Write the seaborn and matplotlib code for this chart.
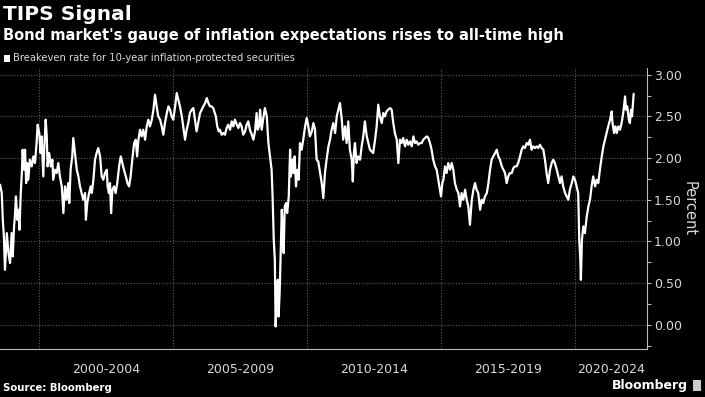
import pandas as pd
import seaborn as sns
import matplotlib.pyplot as plt
from matplotlib.patches import Rectangle
from matplotlib.ticker import FixedLocator, FormatStrFormatter

# decimal year of each reading, and the 10-year breakeven rate (percent)
years = [
    1998.55, 1998.61, 1998.65, 1998.69, 1998.73, 1998.80, 1998.86, 1998.92, 1998.98,
    1999.02, 1999.07, 1999.10, 1999.14, 1999.19, 1999.23, 1999.27, 1999.32, 1999.36,
    1999.39, 1999.44, 1999.48, 1999.52, 1999.56, 1999.60, 1999.66, 1999.73, 1999.79,
    1999.85, 1999.91, 1999.95, 2000.01, 2000.06, 2000.10, 2000.16, 2000.20, 2000.25,
    2000.29, 2000.32, 2000.38, 2000.44, 2000.50, 2000.53, 2000.60, 2000.66, 2000.72,
    2000.78, 2000.85, 2000.91, 2000.97, 2001.03, 2001.09, 2001.13, 2001.18, 2001.24,
    2001.28, 2001.34, 2001.41, 2001.47, 2001.53, 2001.59, 2001.65, 2001.72, 2001.75,
    2001.80, 2001.87, 2001.93, 2001.97, 2002.03, 2002.09, 2002.15, 2002.21, 2002.28,
    2002.34, 2002.40, 2002.46, 2002.53, 2002.56, 2002.61, 2002.65, 2002.69, 2002.74,
    2002.80, 2002.86, 2002.92, 2002.99, 2003.05, 2003.11, 2003.17, 2003.24, 2003.30,
    2003.36, 2003.42, 2003.48, 2003.55, 2003.61, 2003.66, 2003.71, 2003.77, 2003.83,
    2003.89, 2003.96, 2004.02, 2004.08, 2004.14, 2004.21, 2004.27, 2004.33, 2004.39,
    2004.45, 2004.52, 2004.58, 2004.64, 2004.70, 2004.77, 2004.83, 2004.89, 2004.95,
    2005.01, 2005.08, 2005.14, 2005.20, 2005.26, 2005.33, 2005.38, 2005.45, 2005.51,
    2005.57, 2005.63, 2005.70, 2005.76, 2005.82, 2005.88, 2005.94, 2006.01, 2006.07,
    2006.13, 2006.20, 2006.26, 2006.32, 2006.38, 2006.44, 2006.50, 2006.56, 2006.60,
    2006.65, 2006.71, 2006.75, 2006.82, 2006.88, 2006.94, 2007.00, 2007.06, 2007.13,
    2007.19, 2007.25, 2007.31, 2007.38, 2007.44, 2007.50, 2007.56, 2007.62, 2007.69,
    2007.75, 2007.81, 2007.87, 2007.94, 2008.00, 2008.06, 2008.12, 2008.16, 2008.21,
    2008.25, 2008.31, 2008.37, 2008.43, 2008.50, 2008.56, 2008.62, 2008.68, 2008.72,
    2008.76, 2008.80, 2008.83, 2008.87, 2008.91, 2008.94, 2008.98, 2009.02, 2009.06,
    2009.09, 2009.13, 2009.17, 2009.22, 2009.26, 2009.32, 2009.37, 2009.40, 2009.44,
    2009.49, 2009.54, 2009.59, 2009.64, 2009.69, 2009.74, 2009.80, 2009.86, 2009.93,
    2009.99, 2010.05, 2010.11, 2010.18, 2010.24, 2010.30, 2010.36, 2010.42, 2010.49,
    2010.55, 2010.61, 2010.67, 2010.73, 2010.80, 2010.86, 2010.92, 2010.98, 2011.05,
    2011.11, 2011.17, 2011.23, 2011.30, 2011.35, 2011.42, 2011.48, 2011.54, 2011.60,
    2011.67, 2011.71, 2011.75, 2011.79, 2011.85, 2011.91, 2011.98, 2012.04, 2012.10,
    2012.16, 2012.23, 2012.29, 2012.35, 2012.41, 2012.47, 2012.54, 2012.60, 2012.66,
    2012.72, 2012.79, 2012.85, 2012.91, 2012.97, 2013.03, 2013.10, 2013.16, 2013.22,
    2013.28, 2013.35, 2013.41, 2013.47, 2013.53, 2013.59, 2013.66, 2013.72, 2013.78,
    2013.84, 2013.91, 2013.97, 2014.03, 2014.09, 2014.15, 2014.22, 2014.28, 2014.34,
    2014.40, 2014.47, 2014.53, 2014.59, 2014.65, 2014.71, 2014.78, 2014.84, 2014.90,
    2014.96, 2015.00, 2015.05, 2015.09, 2015.15, 2015.21, 2015.27, 2015.34, 2015.40,
    2015.46, 2015.52, 2015.59, 2015.65, 2015.71, 2015.77, 2015.83, 2015.90, 2015.96,
    2016.02, 2016.08, 2016.15, 2016.21, 2016.27, 2016.33, 2016.39, 2016.46, 2016.52,
    2016.58, 2016.64, 2016.71, 2016.77, 2016.83, 2016.89, 2016.95, 2017.02, 2017.08,
    2017.14, 2017.20, 2017.27, 2017.33, 2017.39, 2017.45, 2017.51, 2017.57, 2017.64,
    2017.70, 2017.76, 2017.82, 2017.88, 2017.95, 2018.01, 2018.07, 2018.13, 2018.20,
    2018.26, 2018.32, 2018.38, 2018.44, 2018.51, 2018.57, 2018.63, 2018.69, 2018.76,
    2018.82, 2018.88, 2018.94, 2019.00, 2019.07, 2019.13, 2019.19, 2019.25, 2019.32,
    2019.38, 2019.44, 2019.50, 2019.56, 2019.63, 2019.69, 2019.75, 2019.81, 2019.88,
    2019.94, 2020.00, 2020.06, 2020.12, 2020.16, 2020.20, 2020.22, 2020.26, 2020.31,
    2020.37, 2020.44, 2020.50, 2020.56, 2020.62, 2020.68, 2020.75, 2020.81, 2020.87,
    2020.93, 2021.00, 2021.06, 2021.12, 2021.18, 2021.24, 2021.31, 2021.37, 2021.40,
    2021.46, 2021.51, 2021.56, 2021.62, 2021.68, 2021.74, 2021.80, 2021.87, 2021.90,
    2021.95, 2022.01, 2022.05, 2022.09, 2022.13, 2022.19,
]
rate = [
    1.68, 1.58, 1.26, 1.06, 0.66, 1.10, 0.86, 0.74, 1.10,
    0.82, 1.18, 1.30, 1.54, 1.26, 1.38, 1.14, 1.58, 1.82,
    2.10, 1.86, 2.10, 1.70, 1.94, 1.74, 1.98, 1.90, 2.02,
    1.94, 2.18, 2.40, 2.30, 2.06, 2.26, 1.78, 2.14, 2.46,
    2.26, 1.90, 2.06, 1.90, 1.98, 1.74, 1.86, 1.82, 1.94,
    1.78, 1.66, 1.34, 1.66, 1.50, 1.70, 1.46, 1.86, 2.02,
    2.24, 2.06, 1.86, 1.78, 1.66, 1.58, 1.50, 1.58, 1.26,
    1.46, 1.58, 1.66, 1.58, 1.74, 1.98, 2.06, 2.12, 2.02,
    1.78, 1.74, 1.82, 1.86, 1.66, 1.58, 1.70, 1.34, 1.62,
    1.66, 1.58, 1.70, 1.90, 2.02, 1.94, 1.86, 1.78, 1.70,
    1.66, 1.78, 1.98, 2.18, 2.22, 2.02, 2.22, 2.34, 2.26,
    2.34, 2.22, 2.38, 2.46, 2.38, 2.46, 2.58, 2.76, 2.62,
    2.50, 2.46, 2.38, 2.28, 2.42, 2.54, 2.62, 2.58, 2.50,
    2.46, 2.62, 2.78, 2.70, 2.62, 2.50, 2.38, 2.22, 2.34,
    2.42, 2.54, 2.58, 2.60, 2.46, 2.32, 2.42, 2.54, 2.58,
    2.62, 2.66, 2.72, 2.66, 2.62, 2.62, 2.60, 2.54, 2.50,
    2.38, 2.32, 2.34, 2.28, 2.30, 2.28, 2.36, 2.40, 2.34,
    2.44, 2.38, 2.46, 2.40, 2.36, 2.42, 2.38, 2.28, 2.32,
    2.40, 2.44, 2.34, 2.28, 2.22, 2.32, 2.54, 2.34, 2.38,
    2.58, 2.34, 2.48, 2.60, 2.50, 2.18, 2.02, 1.86, 1.50,
    1.02, 0.78, -0.02, 0.30, 0.54, 0.10, 0.38, 0.86, 1.38,
    1.14, 0.86, 1.42, 1.46, 1.34, 1.54, 2.10, 1.78, 1.98,
    1.82, 2.02, 1.66, 1.86, 1.74, 2.18, 2.10, 2.22, 2.38,
    2.48, 2.38, 2.26, 2.32, 2.42, 2.34, 1.98, 1.96, 1.82,
    1.70, 1.52, 1.82, 1.98, 2.14, 2.22, 2.34, 2.42, 2.30,
    2.50, 2.58, 2.66, 2.46, 2.22, 2.38, 2.18, 2.44, 2.10,
    1.98, 1.72, 2.06, 2.18, 1.94, 2.02, 1.98, 2.14, 2.26,
    2.44, 2.26, 2.18, 2.10, 2.08, 2.06, 2.22, 2.38, 2.64,
    2.50, 2.42, 2.54, 2.50, 2.56, 2.58, 2.60, 2.58, 2.42,
    2.30, 2.22, 1.94, 2.22, 2.18, 2.24, 2.14, 2.22, 2.16,
    2.20, 2.14, 2.26, 2.18, 2.20, 2.16, 2.18, 2.18, 2.22,
    2.24, 2.26, 2.24, 2.18, 2.10, 1.98, 1.90, 1.86, 1.74,
    1.62, 1.54, 1.70, 1.74, 1.90, 1.82, 1.94, 1.86, 1.94,
    1.86, 1.70, 1.62, 1.58, 1.42, 1.58, 1.50, 1.62, 1.50,
    1.42, 1.20, 1.50, 1.62, 1.70, 1.62, 1.58, 1.38, 1.50,
    1.46, 1.54, 1.58, 1.70, 1.86, 1.98, 2.02, 2.06, 2.10,
    2.02, 1.98, 1.90, 1.86, 1.82, 1.70, 1.78, 1.82, 1.82,
    1.88, 1.90, 1.90, 1.94, 2.02, 2.10, 2.14, 2.12, 2.18,
    2.16, 2.22, 2.10, 2.14, 2.12, 2.14, 2.12, 2.16, 2.12,
    2.10, 1.98, 1.82, 1.70, 1.86, 1.94, 1.98, 1.94, 1.86,
    1.78, 1.70, 1.78, 1.66, 1.58, 1.54, 1.50, 1.62, 1.70,
    1.78, 1.74, 1.66, 1.58, 1.02, 0.78, 0.54, 1.02, 1.18,
    1.10, 1.30, 1.42, 1.50, 1.66, 1.78, 1.66, 1.74, 1.70,
    1.86, 2.02, 2.14, 2.22, 2.30, 2.38, 2.46, 2.56, 2.42,
    2.30, 2.38, 2.30, 2.38, 2.34, 2.42, 2.54, 2.74, 2.58,
    2.62, 2.46, 2.42, 2.58, 2.50, 2.77,
]

period_starts = [2000, 2005, 2010, 2015, 2020]
period_labels = ['2000-2004', '2005-2009', '2010-2014', '2015-2019', '2020-2024']
y_ticks = [0.0, 0.5, 1.0, 1.5, 2.0, 2.5, 3.0]

x_min, x_max = 1998.545, 2022.705
grid_color = '#5c5c5c'
text_color = '#d9d9d9'

sns.set_style('dark', {'axes.facecolor': 'black', 'figure.facecolor': 'black'})
plt.rcParams['font.family'] = ['DejaVu Sans']

fig = plt.figure(figsize=(7.05, 3.97), dpi=100, facecolor='black')
ax = fig.add_axes([0.0, 0.1209, 0.9184, 0.7078])
ax.set_facecolor('black')

df = pd.DataFrame({'year': years, 'rate': rate})
sns.lineplot(data=df, x='year', y='rate', ax=ax, color='white', linewidth=1.6,
             estimator=None, sort=False, zorder=3)

ax.set_xlim(x_min, x_max)
ax.set_ylim(-0.29, 3.08)

# y axis on the right
ax.yaxis.tick_right()
ax.yaxis.set_label_position('right')
ax.yaxis.set_major_locator(FixedLocator(y_ticks))
ax.yaxis.set_minor_locator(FixedLocator([-0.25, 0.25, 0.75, 1.25, 1.75, 2.25, 2.75]))
ax.yaxis.set_major_formatter(FormatStrFormatter('%.2f'))
ax.tick_params(axis='y', which='both', direction='out', length=3, width=0.8,
               color='#bbbbbb', labelcolor=text_color, labelsize=9, pad=1.5)
ax.set_ylabel('Percent', color=text_color, fontsize=10.5, rotation=270, labelpad=11)

# x axis: long separators at period starts, small yearly ticks
ax.xaxis.set_major_locator(FixedLocator(period_starts))
ax.xaxis.set_minor_locator(FixedLocator(range(1999, 2023)))
ax.set_xticklabels([])
ax.tick_params(axis='x', which='major', direction='out', length=23, width=0.8, color='#9a9a9a')
ax.tick_params(axis='x', which='minor', direction='out', length=3, width=0.8, color='#9a9a9a')
ax.set_xlabel('')

for start, label in zip(period_starts, period_labels):
    centre = (max(start, x_min) + min(start + 5, x_max)) / 2
    ax.text(centre, -0.072, label, transform=ax.get_xaxis_transform(),
            ha='center', va='center', color=text_color, fontsize=9)

ax.grid(True, which='major', axis='both', color=grid_color, linestyle=(0, (1, 1.5)), linewidth=0.8)
ax.set_axisbelow(True)

for side in ['left', 'top']:
    ax.spines[side].set_visible(False)
for side in ['right', 'bottom']:
    ax.spines[side].set_visible(True)
    ax.spines[side].set_color('#bbbbbb')
    ax.spines[side].set_linewidth(0.8)

# titles and legend
fig.text(0.004, 0.9647, 'TIPS Signal', color='white', fontsize=14.5, fontweight='bold', va='center')
fig.text(0.004, 0.9118, "Bond market's gauge of inflation expectations rises to all-time high",
         color='white', fontsize=10.5, fontweight='bold', va='center')
fig.patches.append(Rectangle((0.0057, 0.845), 0.0085, 0.017, transform=fig.transFigure,
                             facecolor='white', edgecolor='none'))
fig.text(0.018, 0.854, 'Breakeven rate for 10-year inflation-protected securities',
         color=text_color, fontsize=7.2, va='center')

fig.text(0.004, 0.0227, 'Source: Bloomberg', color='white', fontsize=7.3, fontweight='bold', va='center')
fig.text(0.976, 0.028, 'Bloomberg', color='white', fontsize=9, fontweight='bold', va='center', ha='right')
fig.patches.append(Rectangle((0.983, 0.014), 0.011, 0.028, transform=fig.transFigure,
                             facecolor='#cccccc', edgecolor='none'))

fig.savefig('out.png', dpi=100, facecolor='black')
